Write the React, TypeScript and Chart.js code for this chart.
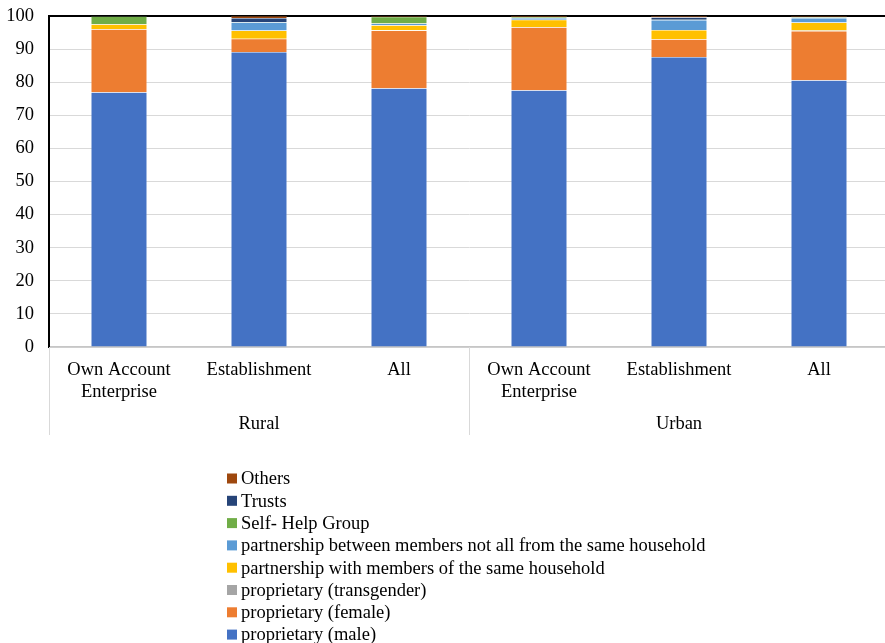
import { useEffect, useRef } from "react";
import { Chart, registerables } from "chart.js";

Chart.register(...registerables);

// Enterprise types within each sector
const categories: (string | string[])[] = [
  ["Own Account", "Enterprise"],
  "Establishment",
  "All",
  ["Own Account", "Enterprise"],
  "Establishment",
  "All",
];
const sectors = ["Rural", "Urban"];
const perSector = 3;

// Share of enterprises (%) by type of ownership
const proprietaryMale = [77.0, 89.1, 78.2, 77.6, 87.6, 80.6];
const proprietaryFemale = [19.0, 4.0, 17.4, 19.0, 5.4, 14.9];
const proprietaryTransgender = [0.1, 0.0, 0.1, 0.1, 0.0, 0.1];
const partnershipSameHousehold = [1.4, 2.5, 1.5, 2.2, 2.8, 2.4];
const partnershipNotSameHousehold = [0.1, 2.5, 0.5, 0.5, 3.0, 1.4];
const selfHelpGroup = [2.3, 0.1, 2.1, 0.3, 0.1, 0.2];
const trusts = [0.0, 1.2, 0.0, 0.0, 0.7, 0.2];
const others = [0.1, 0.6, 0.2, 0.3, 0.4, 0.2];

const yTicks = [0, 10, 20, 30, 40, 50, 60, 70, 80, 90, 100];

const FONT = "'Liberation Serif', 'Times New Roman', serif";
const FONT_SIZE = 18.5;

const series = [
  { label: "proprietary (male)", data: proprietaryMale, color: "#4472C4" },
  { label: "proprietary (female)", data: proprietaryFemale, color: "#ED7D31" },
  { label: "proprietary (transgender)", data: proprietaryTransgender, color: "#A5A5A5" },
  { label: "partnership with members of the same household", data: partnershipSameHousehold, color: "#FFC000" },
  { label: "partnership between members not all from the same household", data: partnershipNotSameHousehold, color: "#5B9BD5" },
  { label: "Self- Help Group", data: selfHelpGroup, color: "#70AD47" },
  { label: "Trusts", data: trusts, color: "#264478" },
  { label: "Others", data: others, color: "#9E480E" },
];

// Second level of category labels (sectors) with separators below the x axis
const sectorAxisPlugin = {
  id: "sectorAxis",
  afterDraw(chart: any) {
    const x = chart.scales.x;
    const area = chart.chartArea;
    const ctx = chart.ctx;
    const step = x.getPixelForValue(1) - x.getPixelForValue(0);
    const lineBottom = area.bottom + 88;
    ctx.save();
    ctx.strokeStyle = "#d9d9d9";
    ctx.lineWidth = 1;
    for (let g = 0; g <= sectors.length; g++) {
      const px = Math.round(x.getPixelForValue(g * perSector) - step / 2) + 0.5;
      ctx.beginPath();
      ctx.moveTo(px, area.bottom);
      ctx.lineTo(px, lineBottom);
      ctx.stroke();
    }
    ctx.fillStyle = "#000";
    ctx.font = `${FONT_SIZE}px ${FONT}`;
    ctx.textAlign = "center";
    ctx.textBaseline = "middle";
    sectors.forEach((name, g) => {
      const left = x.getPixelForValue(g * perSector) - step / 2;
      const right = x.getPixelForValue(g * perSector + perSector - 1) + step / 2;
      ctx.fillText(name, (left + right) / 2, area.bottom + 77);
    });
    ctx.restore();
  },
};

// Vertical legend listing the series from top of stack to bottom
const stackLegendPlugin = {
  id: "stackLegend",
  afterDraw(chart: any) {
    const ctx = chart.ctx;
    const left = 227;
    const top = 478.5;
    const rowGap = 22.3;
    const box = 10;
    const items = chart.data.datasets.slice().reverse();
    ctx.save();
    ctx.font = `${FONT_SIZE}px ${FONT}`;
    ctx.textBaseline = "middle";
    ctx.textAlign = "left";
    items.forEach((ds: any, i: number) => {
      const cy = top + i * rowGap;
      ctx.fillStyle = ds.backgroundColor;
      ctx.fillRect(left, cy - box / 2, box, box);
      ctx.fillStyle = "#000";
      ctx.fillText(ds.label, left + box + 4, cy + 1);
    });
    ctx.restore();
  },
};

export default function App() {
  const canvasRef = useRef<HTMLCanvasElement | null>(null);

  useEffect(() => {
    document.body.style.margin = "0";
    const canvas = canvasRef.current;
    if (!canvas) return;
    const chart = new Chart(canvas, {
      type: "bar",
      data: {
        labels: categories,
        datasets: series.map((s) => ({
          label: s.label,
          data: s.data,
          backgroundColor: s.color,
          borderColor: "rgba(255,255,255,0.18)",
          borderWidth: 0.5,
          categoryPercentage: 1,
          barPercentage: 0.4,
        })),
      },
      options: {
        responsive: false,
        animation: false,
        devicePixelRatio: 1,
        layout: { padding: { top: 16, right: 1, left: 0, bottom: 0 } },
        plugins: {
          legend: { display: false },
          tooltip: { enabled: false },
        },
        scales: {
          x: {
            stacked: true,
            grid: { display: false },
            border: { display: true, color: "#c6c6c6", width: 1.5 },
            ticks: {
              color: "#000",
              font: { family: FONT, size: FONT_SIZE, lineHeight: 1.2 },
              maxRotation: 0,
              autoSkip: false,
              padding: 4,
            },
            afterFit(scale: any) {
              scale.height = 296;
            },
          },
          y: {
            stacked: true,
            min: 0,
            max: 100,
            afterBuildTicks(scale: any) {
              scale.ticks = yTicks.map((v) => ({ value: v }));
            },
            grid: {
              drawTicks: false,
              color: (c: any) => (c.tick && c.tick.value === 100 ? "#000" : "#d9d9d9"),
              lineWidth: (c: any) => (c.tick && c.tick.value === 100 ? 2 : 1),
            },
            border: { display: true, color: "#000", width: 2 },
            ticks: {
              color: "#000",
              font: { family: FONT, size: FONT_SIZE },
              padding: 15,
            },
            afterFit(scale: any) {
              scale.width = 49;
              scale.paddingTop = 0;
              scale.paddingBottom = 0;
            },
          },
        },
      },
      plugins: [sectorAxisPlugin, stackLegendPlugin],
    });
    return () => chart.destroy();
  }, []);

  return (
    <div style={{ width: 885, height: 643, overflow: "hidden", position: "relative" }}>
      <canvas ref={canvasRef} width={890} height={643} style={{ display: "block", width: 890, height: 643 }} />
    </div>
  );
}
